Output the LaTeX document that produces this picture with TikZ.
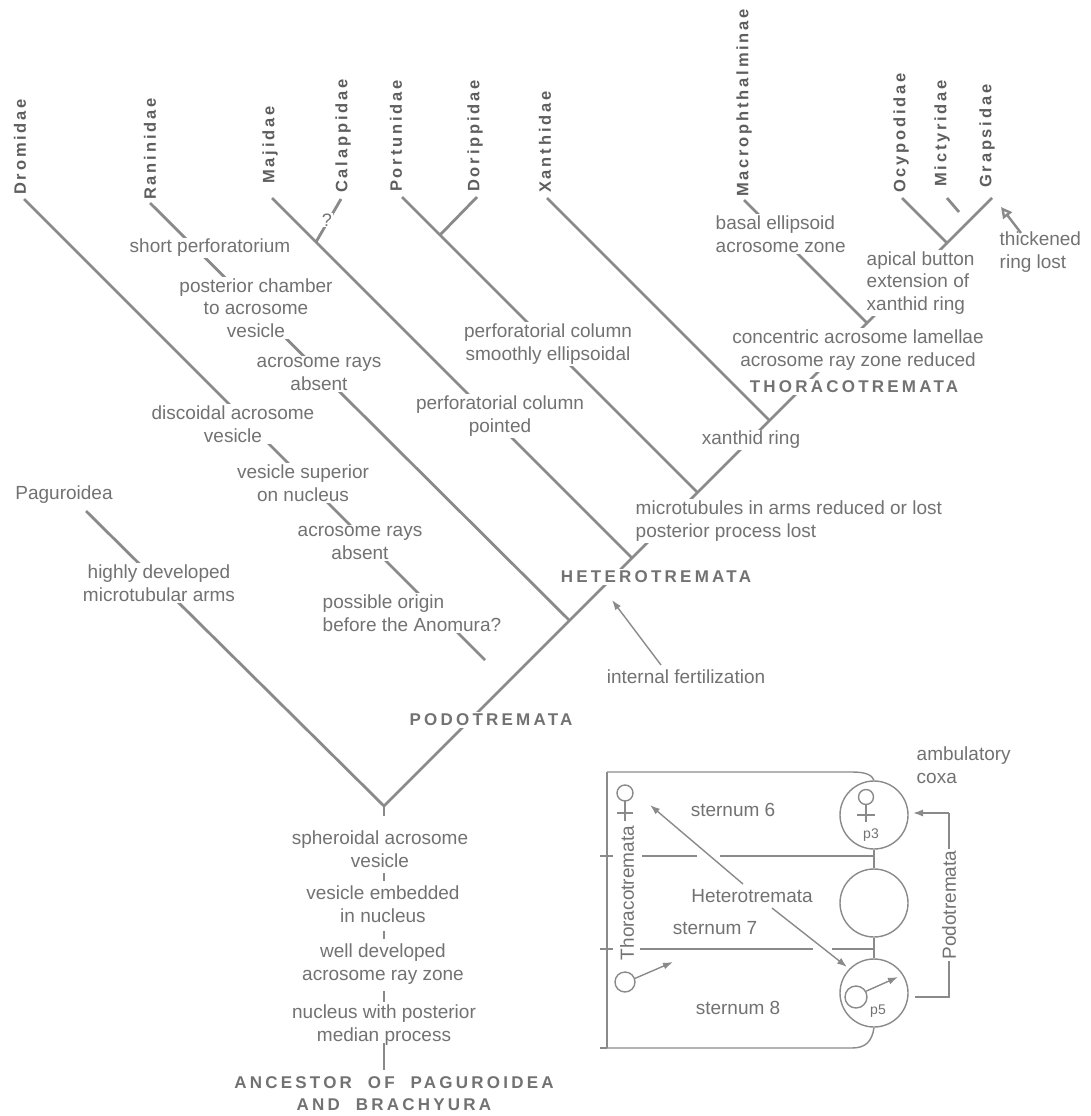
\documentclass[tikz,border=0pt]{standalone}
\usepackage{fontspec}
\setmainfont{Liberation Sans}
\newfontfamily\grpfont{Liberation Sans}[LetterSpace=19]
\newfontfamily\taxfont{Liberation Sans}[LetterSpace=17]
\usetikzlibrary{arrows.meta}
\definecolor{ln}{HTML}{8A8A8A}
\definecolor{tx}{HTML}{727272}
\definecolor{taxc}{HTML}{5E5E5E}
\pgfdeclarelayer{bg}
\pgfsetlayers{bg,main}
\tikzset{
  lbl/.style={font=\fontsize{19}{22.5}\selectfont, text=tx, align=center, fill=white, inner sep=1.5pt},
  grp/.style={font=\grpfont\bfseries\fontsize{17}{22}\selectfont, text=tx, fill=white, inner sep=1.5pt, align=center},
  taxon/.style={font=\taxfont\bfseries\fontsize{16.5}{20}\selectfont, text=taxc, rotate=90, anchor=west, inner sep=0pt},
  branch/.style={draw=ln, line width=2.8pt},
  tickln/.style={draw=ln, line width=2.2pt},
  thinln/.style={draw=ln, line width=1.4pt},
  ring/.style={circle, draw=ln, line width=1.4pt, minimum size=68pt, inner sep=0pt},
  small/.style={font=\fontsize{14}{16}\selectfont, text=tx, inner sep=0pt},
  arr/.style={-{Latex[length=10pt,width=7pt]}}
}
\begin{document}
\begin{tikzpicture}[x=1pt,y=-1pt]
\useasboundingbox (0,0) rectangle (1090,1116);

% ---------- coordinates of the tree
\coordinate (R) at (384,806);
\coordinate (G) at (992,198);
\coordinate (jRan) at (569.5,620.5);
\coordinate (jMaj) at (632,558);
\coordinate (jPor) at (697.5,492.5);
\coordinate (jXan) at (769.5,420.5);
\coordinate (jMac) at (867,323);
\coordinate (jOcy) at (947,243);
\coordinate (jPD) at (440,235);
\coordinate (jCal) at (316,242);
\coordinate (pagTop) at (86,511);
\coordinate (droTop) at (24,199);
\coordinate (droEnd) at (485,660);
\coordinate (ranTop) at (150,203);
\coordinate (majTop) at (272,198);
\coordinate (calTop) at (341,199);
\coordinate (porTop) at (402,197);
\coordinate (dorTop) at (477,197);
\coordinate (xanTop) at (547,198);
\coordinate (macTop) at (744,200);
\coordinate (ocyTop) at (902,198);
\coordinate (micA) at (947,198);
\coordinate (micB) at (959,212);

% ---------- taxa
\node[taxon] (tDro) at (20,195) {Dromidae};
\node[taxon] (tRan) at (150,200) {Raninidae};
\node[taxon] (tMaj) at (270,184) {Majidae};
\node[taxon] (tCal) at (343,193) {Calappidae};
\node[taxon] (tPor) at (396,192) {Portunidae};
\node[taxon] (tDor) at (475,192) {Dorippidae};
\node[taxon] (tXan) at (545,193) {Xanthidae};
\node[taxon] (tMac) at (744,197) {Macrophthalminae};
\node[taxon] (tOcy) at (901,193) {Ocypodidae};
\node[taxon] (tMic) at (942,187) {Mictyridae};
\node[taxon] (tGra) at (987,188) {Grapsidae};

% ---------- character labels
\node[lbl] (lShort) at (210,248) {short perforatorium};
\node[lbl] (lPost) at (256,308) {posterior chamber\\to acrosome\\vesicle};
\node[lbl] (lRayR) at (319,374) {acrosome rays\\absent};
\node[lbl] (lDisc) at (233,424) {discoidal acrosome\\vesicle};
\node[lbl] (lSup) at (303,483) {vesicle superior\\on nucleus};
\node[lbl] (lRayD) at (360,543) {acrosome rays\\absent};
\node[lbl, anchor=west, align=left] (lOrig) at (321,613) {possible origin\\before the Anomura?};
\node[lbl] (lPag) at (64,495) {Paguroidea};
\node[lbl] (lArms) at (159,583) {highly developed\\microtubular arms};
\node[lbl] (lPoint) at (500,416) {perforatorial column\\pointed};
\node[lbl] (lEll) at (548,344) {perforatorial column\\smoothly ellipsoidal};
\node[lbl, anchor=west, align=left] (lMicro) at (634,521) {microtubules in arms reduced or lost\\posterior process lost};
\node[lbl] (lXring) at (751,440) {xanthid ring};
\node[lbl] (lConc) at (858,350) {concentric acrosome lamellae\\acrosome ray zone reduced};
\node[lbl, anchor=west, align=left] (lBasal) at (714,234) {basal ellipsoid\\acrosome zone};
\node[lbl, anchor=west, align=left] (lApical) at (865,283) {apical button\\extension of\\xanthid ring};
\node[lbl, anchor=west, align=left] (lThick) at (998,252) {thickened\\ring lost};
\node[lbl] (lIntern) at (686,677) {internal fertilization};
\node[lbl, font=\fontsize{18}{18}\selectfont, inner sep=0.5pt] (qCal) at (327,220) {?};

\node[grp] (gThor) at (854,387) {THORACOTREMATA};
\node[grp] (gHet) at (656,577) {HETEROTREMATA};
\node[grp] (gPod) at (491,720) {PODOTREMATA};

% ---------- root chain
\node[lbl] (lSph) at (380,849) {spheroidal acrosome\\vesicle};
\node[lbl] (lEmb) at (383,904) {vesicle embedded\\in nucleus};
\node[lbl] (lWell) at (383,964) {well developed\\acrosome ray zone};
\node[lbl] (lNuc) at (384,1025) {nucleus with posterior\\median process};
\node[grp] (gAnc) at (394,1094) {ANCESTOR\ \ OF\ \ PAGUROIDEA\\AND\ \ BRACHYURA};

\coordinate (r0) at (384,816);
\coordinate (r1a) at (384,873); \coordinate (r1b) at (384,881);
\coordinate (r2a) at (384,931); \coordinate (r2b) at (384,939);
\coordinate (r3a) at (384,991); \coordinate (r3b) at (384,1002);
\coordinate (r4a) at (384,1043); \coordinate (r4b) at (384,1070);

% ---------- arrows in tree
\coordinate (ifA) at (661,665);
\coordinate (ifB) at (612,600);
\coordinate (thA) at (1021,233);
\coordinate (thB) at (1001,207);

\begin{pgfonlayer}{bg}
\draw[branch] (R) -- (G);
\draw[branch] (pagTop) -- (R);
\draw[branch] (droTop) -- (droEnd);
\draw[branch] (ranTop) -- (jRan);
\draw[branch] (majTop) -- (jMaj);
\draw[branch] (calTop) -- (jCal);
\draw[branch] (porTop) -- (jPD) -- (jPor);
\draw[branch] (dorTop) -- (jPD);
\draw[branch] (xanTop) -- (jXan);
\draw[branch] (macTop) -- (jMac);
\draw[branch] (ocyTop) -- (jOcy);
\draw[branch] (micA) -- (micB);
\end{pgfonlayer}

\draw[tickln] (R) -- (r0);
\draw[tickln] (r1a) -- (r1b);
\draw[tickln] (r2a) -- (r2b);
\draw[tickln] (r3a) -- (r3b);
\draw[branch] (r4a) -- (r4b);

\draw[thinln, arr] (ifA) -- (ifB);
\draw[draw=ln, line width=2.4pt, -{Triangle[open, length=11pt, width=11pt]}] (thA) -- (thB);

% ---------- inset
\node[ring] (cP3) at (874,815) {};
\node[ring] (cMid) at (874,903) {};
\node[ring] (cP5) at (874,993) {};
\coordinate (bTL) at (607,772);
\coordinate (bTR) at (852,772);
\coordinate (bBL) at (607,1048);
\coordinate (bBR) at (852,1048);
\draw[thinln] (bTL) -- (bTR) .. controls (866,772) and (872,775) .. (cP3.north);
\draw[thinln] (bBL) -- (bBR) .. controls (866,1048) and (872,1041) .. (cP5.south);
\draw[thinln] (bTL) -- (bBL);
\draw[thinln] (cP3.south) -- (cMid.north);
\draw[thinln] (cMid.south) -- (cP5.north);
\coordinate (d1a) at (600,856); \coordinate (d1b) at (613,856);
\coordinate (d1c) at (642,856); \coordinate (d1d) at (697,856);
\coordinate (d1e) at (720,856); \coordinate (d1f) at (874,856);
\coordinate (d2a) at (600,949); \coordinate (d2b) at (613,949);
\coordinate (d2c) at (640,949); \coordinate (d2d) at (813,949);
\coordinate (d2e) at (832,949); \coordinate (d2f) at (874,949);
\coordinate (d3a) at (600,1048);
\draw[thinln] (d1a) -- (d1b) (d1c) -- (d1d) (d1e) -- (d1f);
\draw[thinln] (d2a) -- (d2b) (d2c) -- (d2d) (d2e) -- (d2f);
\draw[thinln] (d3a) -- (bBL);

% female symbols
\draw[thinln] (866,797) circle[radius=7.5pt];
\draw[thinln] (866,804.5) -- (866,822) (857,815) -- (875,815);
\draw[thinln] (625,793) circle[radius=8pt];
\draw[thinln] (625,801) -- (625,821) (617,813) -- (633,813);
\node[small] (tp3) at (871,835) {p3};
\node[small] (tp5) at (878,1011) {p5};

% small circles with arrows
\node[circle, draw=ln, line width=1.4pt, minimum size=20pt, inner sep=0pt] (cTh) at (625,982) {};
\node[circle, draw=ln, line width=1.4pt, minimum size=22pt, inner sep=0pt] (cIn) at (856,997) {};
\coordinate (aTh) at (673,962);
\coordinate (aIn) at (898,977);
\draw[thinln, arr] (cTh.20) -- (aTh);
\draw[thinln, arr] (cIn.30) -- (aIn);

% inset labels
\node[lbl] (sSix) at (733,810) {sternum 6};
\node[lbl] (sSev) at (715,928) {sternum 7};
\node[lbl] (sEig) at (738,1008) {sternum 8};
\node[lbl] (lHet) at (752,896) {Heterotremata};
\node[lbl, rotate=90, fill=none] (lThor) at (627,893) {Thoracotremata};
\node[lbl, anchor=west, align=left] (lAmb) at (915,765) {ambulatory\\coxa};
\coordinate (h1a) at (743,884);
\coordinate (h1b) at (650,805);
\coordinate (h2a) at (772,908);
\coordinate (h2b) at (847,967);
\draw[thinln, arr] (h1a) -- (h1b);
\draw[thinln, arr] (h2a) -- (h2b);

% Podotremata bracket
\coordinate (pT) at (949,813);
\coordinate (pB) at (949,997);
\coordinate (pBL) at (915,997);
\coordinate (pTL) at (913,813);
\begin{pgfonlayer}{bg}
\draw[thinln] (pT) -- (pB) -- (pBL);
\end{pgfonlayer}
\draw[thinln, arr] (pT) -- (pTL);
\node[lbl, rotate=90] (lPodo) at (949,905) {Podotremata};
\end{tikzpicture}
\end{document}
